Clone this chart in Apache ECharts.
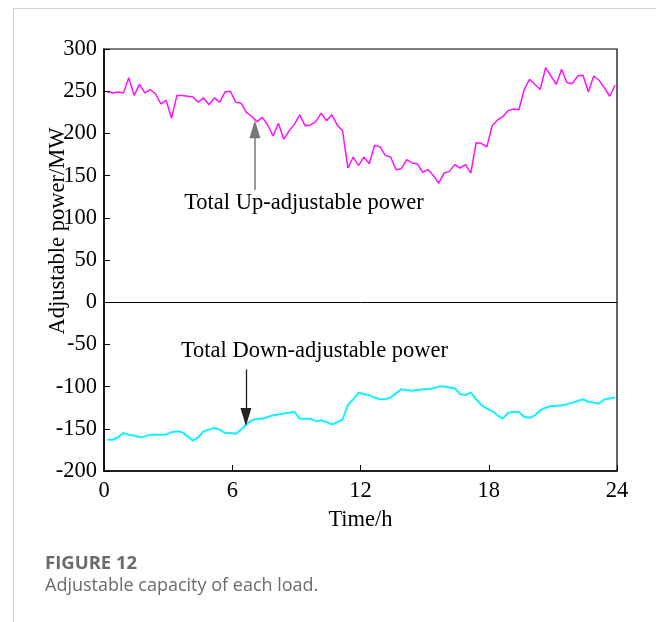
<!DOCTYPE html>
<html><head><meta charset="utf-8">
<script src="https://cdn.jsdelivr.net/npm/echarts@6/dist/echarts.min.js"></script>
<style>html,body{margin:0;padding:0;background:#fff}#c{width:656px;height:622px}</style>
</head><body><div id="c"></div>
<script>
// Total up-adjustable power (MW), 96 points at 15-min steps
const upPower = [249,248,249,248,266,245,258,248,252,247,
  235,239,218,245,245,244,243,237,242,234,
  242,237,249,250,237,236,225,220,214,219,
  210,197,212,193,203,211,222,209,210,214,
  224,215,222,210,203,159,172,162,172,164,
  186,184,174,172,157,158,169,165,164,154,
  157,150,141,153,155,163,159,163,153,189,
  188,184,209,216,220,227,229,228,252,264,
  258,252,278,268,258,276,260,259,268,269,
  249,268,263,254,244,257];
// Total down-adjustable power (MW)
const downPower = [-163,-163,-160,-155,-157,-158,-160,-159,-157,-157,
  -157,-157,-154,-153,-154,-159,-164,-160,-153,-151,
  -149,-151,-155,-155,-156,-151,-145,-140,-138,-138,
  -136,-134,-133,-132,-131,-130,-138,-138,-138,-141,
  -140,-142,-145,-142,-139,-122,-115,-107,-109,-110,
  -113,-115,-115,-113,-108,-103,-104,-105,-104,-103,
  -103,-102,-100,-100,-101,-102,-109,-110,-107,-115,
  -122,-126,-129,-134,-138,-131,-130,-130,-136,-137,
  -134,-128,-125,-123,-123,-122,-121,-119,-117,-115,
  -118,-119,-120,-115,-114,-113];
const xTickHours = [0, 6, 12, 18, 24];
const yTickValues = [-200,-150,-100,-50,0,50,100,150,200,250,300];
const upLabel = 'Total Up-adjustable power';
const downLabel = 'Total Down-adjustable power';
const xName = 'Time/h';
const yName = 'Adjustable power/MW';
const figTitle = 'FIGURE 12';
const figCaption = 'Adjustable capacity of each load.';

const firstHour = 0.16, stepHour = 0.25;
const hours = upPower.map((_, i) => firstHour + i * stepHour);
const upData = upPower.map((v, i) => [hours[i], v]);
const downData = downPower.map((v, i) => [hours[i], v]);

const serif = '"Liberation Serif","Times New Roman",serif';
const fs = 22.5;
const chart = echarts.init(document.getElementById('c'), null, {renderer: 'canvas'});
chart.setOption({
  animation: false,
  backgroundColor: '#fff',
  grid: {left: 104, right: 39, top: 49, bottom: 151, show: true, borderColor: '#000', borderWidth: 1.2, backgroundColor: 'transparent'},
  xAxis: {
    type: 'value', min: 0, max: 24, interval: 6,
    name: xName, nameLocation: 'middle', nameGap: 38,
    nameTextStyle: {fontFamily: serif, fontSize: fs, color: '#000'},
    axisLine: {show: true, onZero: false, lineStyle: {color: '#000', width: 1.5}},
    axisTick: {show: true, inside: true, length: 6, lineStyle: {color: '#000'}},
    axisLabel: {fontFamily: serif, fontSize: fs, color: '#000', margin: 9},
    splitLine: {show: false}
  },
  yAxis: {
    type: 'value', min: -200, max: 300, interval: 50,
    name: yName, nameLocation: 'middle', nameGap: 34, nameMoveOverlap: false,
    nameTextStyle: {fontFamily: serif, fontSize: fs, color: '#000', padding: [0, 0, 0, 58]},
    axisLine: {show: true, onZero: false, lineStyle: {color: '#000', width: 1.5}},
    axisTick: {show: true, inside: true, length: 6, lineStyle: {color: '#000'}},
    axisLabel: {fontFamily: serif, fontSize: fs, color: '#000', margin: 7},
    splitLine: {show: false}
  },
  series: [
    {
      type: 'line', data: upData, showSymbol: false, symbol: 'none',
      lineStyle: {color: '#ff11ff', width: 1.5}, z: 3,
      markLine: {
        silent: true, symbol: ['none', 'none'], label: {show: false},
        data: [
          [{coord: [0, 0], lineStyle: {color: '#000', width: 1, type: 'solid'}}, {coord: [24, 0]}],
          [{coord: [7.06, 133], lineStyle: {color: '#777', width: 1.5, type: 'solid'}}, {coord: [7.06, 205], symbol: 'triangle', symbolSize: [11, 18]}]
        ]
      },
      markPoint: {
        symbol: 'circle', symbolSize: 0, silent: true,
        label: {show: true, position: 'right', distance: 0, formatter: upLabel, fontFamily: serif, fontSize: fs, color: '#000'},
        data: [{coord: [3.75, 117.5]}]
      }
    },
    {
      type: 'line', data: downData, showSymbol: false, symbol: 'none',
      lineStyle: {color: '#11f2ff', width: 2}, z: 3,
      markLine: {
        silent: true, symbol: ['none', 'none'], label: {show: false},
        data: [
          [{coord: [6.64, -79.5], lineStyle: {color: '#222', width: 1.3, type: 'solid'}}, {coord: [6.64, -136], symbol: 'triangle', symbolSize: [11, 18]}]
        ]
      },
      markPoint: {
        symbol: 'circle', symbolSize: 0, silent: true,
        label: {show: true, position: 'right', distance: 0, formatter: downLabel, fontFamily: serif, fontSize: fs, color: '#000'},
        data: [{coord: [3.6, -58]}]
      }
    }
  ],
  graphic: [
    {type: 'line', shape: {x1: 13.5, y1: 8.5, x2: 13.5, y2: 622}, style: {stroke: '#d0d0d0', lineWidth: 1}},
    {type: 'line', shape: {x1: 13.5, y1: 8.5, x2: 656, y2: 8.5}, style: {stroke: '#d0d0d0', lineWidth: 1}},
    {type: 'text', left: 45, top: 554, style: {text: figTitle, font: 'bold 18.5px "Open Sans","Noto Sans",sans-serif', fill: '#6b6b6b'}},
    {type: 'text', left: 45, top: 577, style: {text: figCaption, font: '18px "Open Sans","Noto Sans",sans-serif', fill: '#6b6b6b'}}
  ]
});
</script>
</body></html>
